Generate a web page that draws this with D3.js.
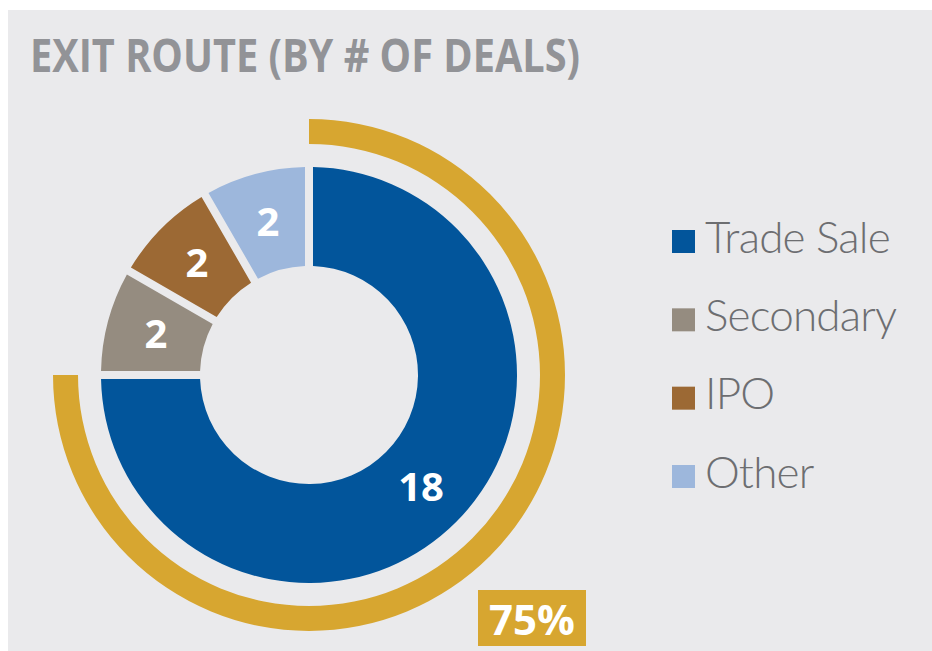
<!DOCTYPE html>
<html><head><meta charset="utf-8">
<script src="https://cdn.jsdelivr.net/npm/d3@7"></script>
<style>html,body{margin:0;padding:0;background:#fff;}svg{display:block;}</style>
</head><body>
<svg id="c" width="932" height="651"></svg>
<script>
const categories = ["Trade Sale", "Secondary", "IPO", "Other"];
const values = [18, 2, 2, 2];
const colors = ["#02559b", "#958c80", "#9c6934", "#9db7dc"];
const highlightLabel = "75%";
const title = "EXIT ROUTE (BY # OF DEALS)";

const bg = "#eaeaec";
const svg = d3.select("#c");
svg.append("rect").attr("x", 8).attr("y", 10).attr("width", 924).attr("height", 641).attr("fill", bg);

svg.append("text").attr("x", 30).attr("y", 72)
  .attr("font-family", "'Open Sans', sans-serif").attr("font-weight", 700)
  .attr("font-size", 46).attr("fill", "#929397")
  .attr("textLength", 550).attr("lengthAdjust", "spacingAndGlyphs")
  .text(title);

const cx = 309, cy = 375;
const g = svg.append("g").attr("transform", `translate(${cx},${cy})`);

const total = d3.sum(values);
const pie = d3.pie().sort(null).value(d => d);
const arcs = pie(values);
const rIn = 109, rOut = 208;
const arc = d3.arc().innerRadius(rIn).outerRadius(rOut).padAngle(8 / rOut).padRadius(rOut);

g.selectAll("path.slice").data(arcs).enter().append("path")
  .attr("class", "slice").attr("d", arc).attr("fill", (d, i) => colors[i]);

const labelArc = d3.arc().innerRadius(rIn).outerRadius(rOut);
g.selectAll("text.lbl").data(arcs).enter().append("text")
  .attr("class", "lbl")
  .attr("transform", d => `translate(${labelArc.centroid(d)})`)
  .attr("text-anchor", "middle").attr("dy", "0.36em")
  .attr("font-family", "'Open Sans', sans-serif").attr("font-weight", 700)
  .attr("font-size", 40).attr("fill", "#fff")
  .text(d => d.data);

// Gold ring showing Trade Sale share
const share = values[0] / total;
const ring = d3.arc().innerRadius(231).outerRadius(256)
  .startAngle(0).endAngle(2 * Math.PI * share);
g.append("path").attr("d", ring()).attr("fill", "#d7a630");

// 75% box
const bx = 478, by = 590, bw = 108, bh = 56;
svg.append("rect").attr("x", bx).attr("y", by).attr("width", bw).attr("height", bh).attr("fill", "#d7a630");
svg.append("text").attr("x", bx + bw / 2).attr("y", by + 45)
  .attr("text-anchor", "middle")
  .attr("font-family", "'Open Sans', sans-serif").attr("font-weight", 700)
  .attr("font-size", 42).attr("fill", "#fff")
  .text(highlightLabel);

// Legend
const legY = d3.scalePoint().domain(categories).range([230, 465]);
const leg = svg.append("g");
categories.forEach((c, i) => {
  leg.append("rect").attr("x", 672).attr("y", legY(c)).attr("width", 23).attr("height", 23).attr("fill", colors[i]);
  leg.append("text").attr("x", 705).attr("y", legY(c) + 22.5)
    .attr("font-family", "Lato, sans-serif").attr("font-weight", 300)
    .attr("font-size", 44).attr("letter-spacing", -0.8).attr("fill", "#6d6e71")
    .text(c);
});
</script>
</body></html>
